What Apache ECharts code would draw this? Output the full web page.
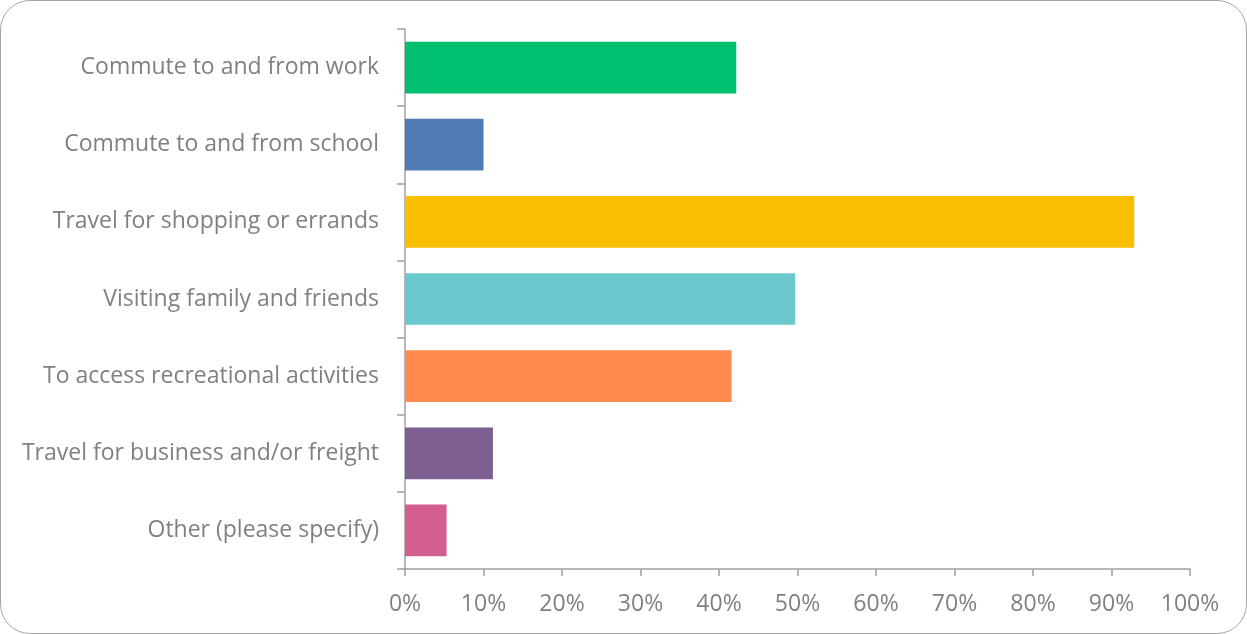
<!DOCTYPE html>
<html><head><meta charset="utf-8">
<script src="https://cdn.jsdelivr.net/npm/echarts@6/dist/echarts.min.js"></script>
<style>
html,body{margin:0;padding:0;background:#fff;}
#wrap{position:absolute;left:0;top:0;width:1245px;height:632px;border:1px solid #a6a6a6;border-radius:30px;}
#c{position:absolute;left:-1px;top:-1px;width:1247px;height:634px;}
</style></head>
<body><div id="wrap"><div id="c"></div></div>
<script>
const categories = ["Commute to and from work","Commute to and from school","Travel for shopping or errands","Visiting family and friends","To access recreational activities","Travel for business and/or freight","Other (please specify)"];
const values = [42.2, 10.0, 92.9, 49.7, 41.6, 11.2, 5.3];
const colors = ["#00BF6F","#507CB6","#F9BE00","#6BC8CD","#FF8B4F","#7D5E90","#D25F90"];
const chart = echarts.init(document.getElementById('c'));
const font = 'Open Sans';
chart.setOption({
  animation:false,
  grid:{left:405,right:57,top:29,bottom:65,containLabel:false},
  xAxis:{type:'value',min:0,max:100,interval:10,
    axisLine:{show:true,lineStyle:{color:'#a0a0a0',width:1.5}},
    axisTick:{show:true,length:7,lineStyle:{color:'#a0a0a0',width:1.5}},
    splitLine:{show:false},
    axisLabel:{formatter:'{value}%',color:'#808080',fontSize:23,fontFamily:font,margin:24}},
  yAxis:{type:'category',data:categories,inverse:true,
    axisLine:{show:true,lineStyle:{color:'#a0a0a0',width:1.5}},
    axisTick:{show:true,length:8,lineStyle:{color:'#a0a0a0',width:1.5}},
    axisLabel:{color:'#808080',fontSize:23,fontFamily:font,margin:26}},
  series:[{type:'bar',barCategoryGap:'33%',
    data:values.map((v,i)=>({value:v,itemStyle:{color:colors[i]}}))}]
});
</script></body></html>
